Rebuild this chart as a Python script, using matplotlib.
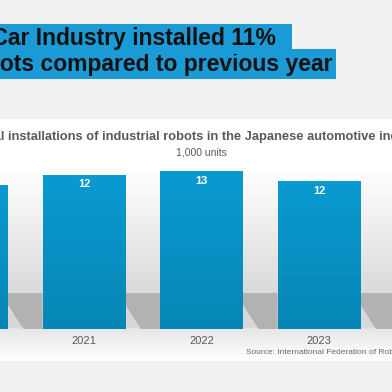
import matplotlib.pyplot as plt
import numpy as np
from matplotlib.patches import Polygon
from matplotlib.colors import LinearSegmentedColormap

plt.rcParams['font.family'] = ['Liberation Sans', 'DejaVu Sans']

# data (1,000 units)
years = [2020, 2021, 2022, 2023, 2024]
installs = [11.4, 12.2, 12.5, 11.7, 13.0]
value_labels = ["11", "12", "13", "12", "13"]

title_lines = ["Japan's Car Industry installed 11%  ", "more robots compared to previous year"]
chart_title = "Annual installations of industrial robots in the Japanese automotive industry"
unit_text = "1,000 units"
source_text = "Source: International Federation of Robotics"

W = H = 392


def fx(px):
    return px / W


def fy(py):
    return 1 - py / H


fig = plt.figure(figsize=(3.92, 3.92), dpi=100)
fig.patch.set_facecolor('#f1f1f1')

# white panel with grey gradient behind the bars
bg = fig.add_axes([0, fy(361), 1, (361 - 119) / H])
bg.set_axis_off()
rows = np.linspace(0, 1, 242)
shade = np.interp(rows, [0, 0.2, 0.72, 0.86, 0.87, 1.0],
                  [1.0, 1.0, 0.85, 0.84, 0.90, 1.0])
bg.imshow(np.tile(shade[:, None], (1, 2)), cmap='gray', vmin=0, vmax=1,
          aspect='auto', extent=[0, 1, 0, 1])
bg.set_xlim(0, 1)
bg.set_ylim(0, 1)

ax = fig.add_axes([0, fy(329), 1, (329 - 119) / H])
ax.set_facecolor('none')
x = np.arange(len(years))
width = 0.706

bars = ax.bar(x, installs, width=width, color='#0793c8', zorder=3)

# slight vertical gradient inside each bar
cm = LinearSegmentedColormap.from_list('b', ['#0686b6', '#0a9ad0'])
grad = np.linspace(0, 1, 100)[:, None]
for b in bars:
    im = ax.imshow(grad, cmap=cm, aspect='auto', origin='lower', zorder=3.5,
                   extent=[b.get_x(), b.get_x() + b.get_width(), 0, b.get_height()])
    im.set_clip_path(b)

# cast shadows to the right of each bar
gap = 1 - width
for xi in x:
    r = xi + width / 2
    shadow = Polygon([(r, 2.85), (r + gap, 2.85), (r + gap, 0),
                      (r + gap * 0.45, 0), (r, 1.9)],
                     closed=True, facecolor='#b2b2b2', edgecolor='none', zorder=2)
    ax.add_patch(shadow)

for xi, h, lab in zip(x, installs, value_labels):
    ax.annotate(lab, (xi, h), xytext=(0, -6.8), textcoords='offset points',
                ha='center', va='center', color='white', fontsize=8,
                fontweight='bold', zorder=5)

ax.set_xticks(x)
ax.set_xticklabels([str(y) for y in years], fontsize=8, color='#595959')
ax.tick_params(axis='x', length=0, pad=5)
ax.set_yticks([])
ax.set_xlim(0.285, 3.621)
ax.set_ylim(0, 16.64)
for s in ax.spines.values():
    s.set_visible(False)
ax.set_zorder(2)

# headline with blue highlight
fig.text(fx(-99), fy(70.5), title_lines[1], fontsize=16.5, fontweight='bold',
         color='#111111', va='baseline', ha='left',
         bbox=dict(boxstyle='square,pad=0.14', facecolor='#1a9bd6', edgecolor='none'))
fig.text(fx(-99), fy(45.5), title_lines[0], fontsize=16.5, fontweight='bold',
         color='#111111', va='baseline', ha='left',
         bbox=dict(boxstyle='square,pad=0.14', facecolor='#1a9bd6', edgecolor='none'))

fig.text(fx(195.5), fy(137), chart_title, fontsize=9.3, fontweight='bold',
         color='#595959', ha='center', va='center')
fig.text(fx(201), fy(152.5), unit_text, fontsize=7.5, color='#595959',
         ha='center', va='center')
fig.text(fx(246), fy(353), source_text, fontsize=6.0, color='#6a6a6a',
         ha='left', va='center')

fig.savefig('out.png', dpi=100, facecolor=fig.get_facecolor())
